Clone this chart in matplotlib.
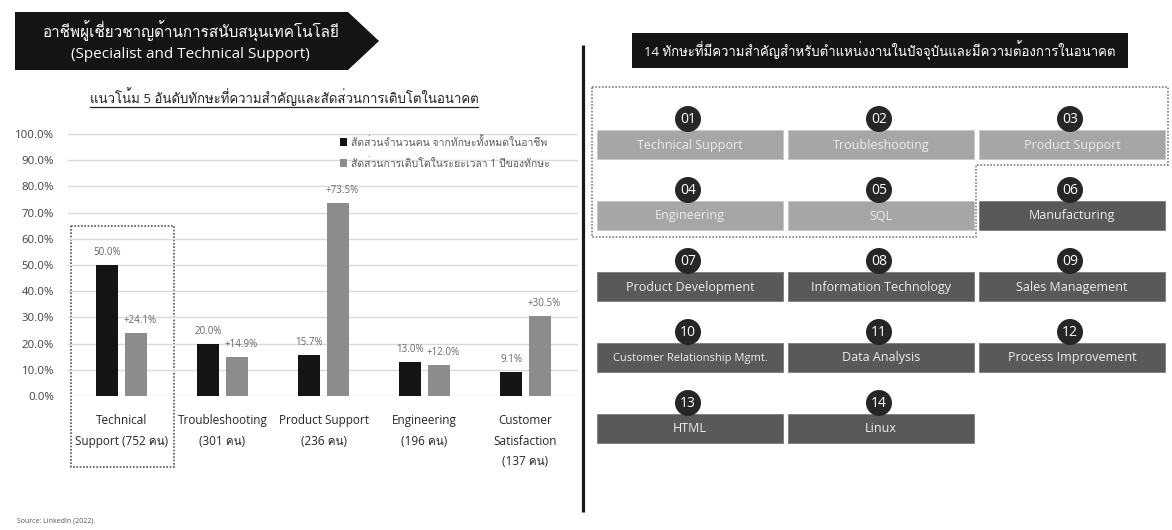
import matplotlib
matplotlib.use("Agg")
import matplotlib.pyplot as plt
from matplotlib import font_manager
from matplotlib.ft2font import FT2Font
from matplotlib.patches import Polygon, Rectangle, Circle
from matplotlib.ticker import FuncFormatter

# ---------------- data ----------------
skill_labels = [
    "Technical\nSupport (752 คน)",
    "Troubleshooting\n(301 คน)",
    "Product Support\n(236 คน)",
    "Engineering\n(196 คน)",
    "Customer\nSatisfaction\n(137 คน)",
]
share_pct = [50.0, 20.0, 15.7, 13.0, 9.1]
growth_pct = [24.1, 14.9, 73.5, 12.0, 30.5]
y_ticks = [0, 10, 20, 30, 40, 50, 60, 70, 80, 90, 100]

legend_share = "สัดส่วนจำนวนคน จากทักษะทั้งหมดในอาชีพ"
legend_growth = "สัดส่วนการเติบโตในระยะเวลา 1 ปีของทักษะ"

title_th = "อาชีพผู้เชี่ยวชาญด้านการสนับสนุนเทคโนโลยี"
title_en = "(Specialist and Technical Support)"
chart_title = "แนวโน้ม 5 อันดับทักษะที่ความสำคัญและสัดส่วนการเติบโตในอนาคต"
panel_title = "14 ทักษะที่มีความสำคัญสำหรับตำแหน่งงานในปัจจุบันและมีความต้องการในอนาคต"
source_note = "Source: LinkedIn (2022)."

top_skills = [
    "Technical Support", "Troubleshooting", "Product Support",
    "Engineering", "SQL", "Manufacturing",
    "Product Development", "Information Technology", "Sales Management",
    "Customer Relationship Mgmt.", "Data Analysis", "Process Improvement",
    "HTML", "Linux",
]
highlighted_count = 5

# ---------------- fonts ----------------
def families_with(codepoint):
    found = []
    for entry in font_manager.fontManager.ttflist:
        try:
            cmap = FT2Font(entry.fname).get_charmap()
        except Exception:
            continue
        if codepoint in cmap and entry.name not in found:
            found.append(entry.name)
    return found

thai_fams = families_with(0x0E01)
FONTS = ["Open Sans"] + thai_fams + ["DejaVu Sans"]
plt.rcParams["font.family"] = FONTS

# ---------------- figure ----------------
W, H = 1172, 530
fig = plt.figure(figsize=(W / 100, H / 100), dpi=100)
fig.patch.set_facecolor("white")

bg = fig.add_axes([0, 0, 1, 1])
bg.set_xlim(0, W)
bg.set_ylim(H, 0)
bg.axis("off")

# title banner (arrow shape)
bg.add_patch(Polygon([(15, 12), (348, 12), (379, 41), (348, 70), (15, 70)],
                     closed=True, facecolor="#141414", edgecolor="none"))
bg.text(191, 31, title_th, color="white", fontsize=11, ha="center", va="center")
bg.text(190, 55, title_en, color="white", fontsize=11, ha="center", va="center")

# chart subtitle, underlined
st = bg.text(284, 97, chart_title, color="#222222", fontsize=9.5,
             ha="center", va="center")
fig.canvas.draw()
bb = st.get_window_extent(renderer=fig.canvas.get_renderer())
bg.plot([bb.x0, bb.x1], [H - bb.y0 + 1, H - bb.y0 + 1], color="#222222", lw=0.9)

# ---------------- bar chart ----------------
ax_l, ax_r, ax_t, ax_b = 68, 578, 134, 396
ax = fig.add_axes([ax_l / W, (H - ax_b) / H, (ax_r - ax_l) / W, (ax_b - ax_t) / H])
ax.set_facecolor("none")
x = list(range(len(skill_labels)))
bw = 0.215
off = 0.143
share_frac = [v / 100 for v in share_pct]
growth_frac = [v / 100 for v in growth_pct]
b1 = ax.bar([i - off for i in x], share_frac, width=bw, color="#141414", zorder=3,
            label=legend_share)
b2 = ax.bar([i + off for i in x], growth_frac, width=bw, color="#8c8c8c", zorder=3,
            label=legend_growth)
for rect, v in zip(b1, share_pct):
    ax.annotate(f"{v:.1f}%", (rect.get_x() + rect.get_width() / 2, rect.get_height()),
                xytext=(0, 5), textcoords="offset points", ha="center", va="bottom",
                fontsize=7, color="#666666")
for rect, v in zip(b2, growth_pct):
    ax.annotate(f"+{v:.1f}%", (rect.get_x() + rect.get_width() / 2 + 0.04, rect.get_height()),
                xytext=(0, 5), textcoords="offset points", ha="center", va="bottom",
                fontsize=7, color="#666666")

ax.set_ylim(0, 1.0)
ax.set_xlim(-0.53, 4.52)
ax.set_yticks([t / 100 for t in y_ticks])
ax.yaxis.set_major_formatter(FuncFormatter(lambda v, p: f"{v * 100:.1f}%"))
ax.grid(axis="y", color="#d9d9d9", lw=1, zorder=0)
ax.set_axisbelow(True)
for s in ax.spines.values():
    s.set_visible(False)
ax.tick_params(axis="y", length=0, pad=10, labelsize=8.2, labelcolor="#404040")
ax.set_xticks(x)
ax.set_xticklabels(skill_labels, fontsize=8.5, color="#262626", linespacing=1.75)
ax.tick_params(axis="x", length=0, pad=13)

leg = ax.legend(loc="upper left", bbox_to_anchor=(0.515, 1.025), frameon=False,
                fontsize=7.5, labelcolor="#595959", handlelength=0.7,
                handleheight=0.7, handletextpad=0.4, labelspacing=0.95)

# dotted frame around the leading skill
bg.add_patch(Rectangle((71, 226), 103, 241, fill=False, edgecolor="#555555",
                       linestyle=(0, (1, 1)), lw=1.2, zorder=5))

bg.text(17, 521, source_note, fontsize=5, color="#555555", ha="left", va="center")

# divider
bg.plot([583, 583], [45, 512], color="#1a1a1a", lw=2.3, solid_capstyle="butt")

# ---------------- right panel ----------------
bg.add_patch(Rectangle((632, 33), 496, 35, facecolor="#141414", edgecolor="none"))
bg.text(880, 50.5, panel_title, color="white", fontsize=9.5, ha="center", va="center")

bg.add_patch(Polygon([(592, 87), (1168, 87), (1168, 165), (976, 165),
                      (976, 237), (592, 237)], closed=True, fill=False,
                     edgecolor="#7f7f7f", linestyle=(0, (1, 1)), lw=1.2))

col_x = [597, 788, 979]
box_w, box_h = 186, 29
row_top0, row_step = 130, 71
for k, name in enumerate(top_skills):
    r, c = divmod(k, 3)
    x0 = col_x[c]
    y0 = row_top0 + r * row_step
    light = k < highlighted_count
    bg.add_patch(Rectangle((x0, y0), box_w, box_h,
                           facecolor="#a6a6a6" if light else "#595959",
                           edgecolor="#c8c8c8" if light else "#7a7a7a", lw=0.6))
    fs = 8 if len(name) > 24 else 9
    bg.text(x0 + box_w / 2, y0 + box_h / 2 + 0.5, name,
            color="#ececec" if light else "#eeeeee",
            fontsize=fs, ha="center", va="center")
    cx, cy = x0 + box_w / 2 - 2, y0 - 11
    bg.add_patch(Circle((cx, cy), 13, facecolor="#262626", edgecolor="none", zorder=4))
    bg.text(cx, cy + 0.5, f"{k + 1:02d}", color="white", fontsize=10,
            ha="center", va="center", zorder=5)

fig.savefig("out.png", dpi=100, facecolor="white")
